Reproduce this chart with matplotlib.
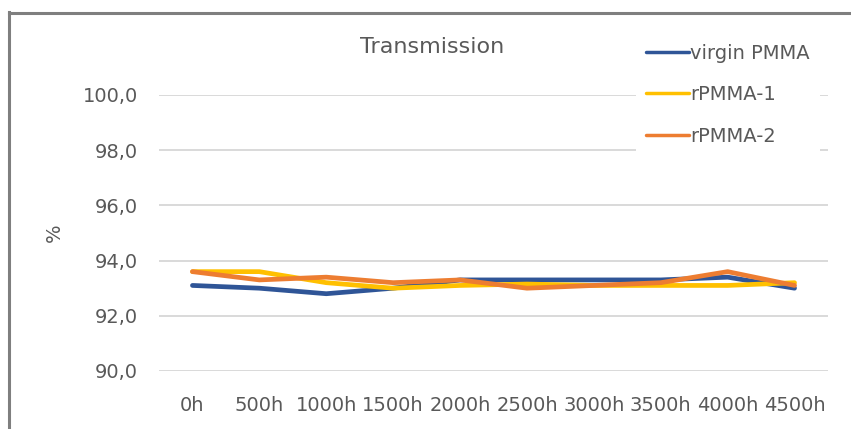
import matplotlib
matplotlib.use("Agg")
import matplotlib.pyplot as plt
from matplotlib.lines import Line2D

# Transmission (%) over ageing time
hours = ["0h", "500h", "1000h", "1500h", "2000h", "2500h", "3000h", "3500h", "4000h", "4500h"]
virgin_pmma = [93.1, 93.0, 92.8, 93.0, 93.3, 93.3, 93.3, 93.3, 93.4, 93.0]
rpmma_1 = [93.6, 93.6, 93.2, 93.0, 93.1, 93.15, 93.1, 93.1, 93.1, 93.2]
rpmma_2 = [93.6, 93.3, 93.4, 93.2, 93.3, 93.0, 93.1, 93.2, 93.6, 93.1]
y_ticks = [90.0, 92.0, 94.0, 96.0, 98.0, 100.0]

text_color = "#595959"
font_size = 14
plt.rcParams["font.family"] = ["DejaVu Sans"]

W, H = 851, 429
fig = plt.figure(figsize=(W / 100, H / 100), dpi=100)
ax = fig.add_axes([159 / W, 1 - 371 / H, (828 - 159) / W, (371 - 95) / H])

x = list(range(len(hours)))
series = [
    ("virgin PMMA", virgin_pmma, "#2F5597"),
    ("rPMMA-1", rpmma_1, "#FFC000"),
    ("rPMMA-2", rpmma_2, "#ED7D31"),
]
for label, vals, col in series:
    ax.plot(x, vals, color=col, lw=3.4, label=label, solid_capstyle="round",
            solid_joinstyle="round", zorder=3)

ax.set_xlim(-0.5, len(hours) - 0.5)
ax.set_ylim(90, 100)
ax.set_yticks(y_ticks)
ax.set_yticklabels([f"{v:.1f}".replace(".", ",") for v in y_ticks])
ax.set_xticks(x)
ax.set_xticklabels(hours)
ax.yaxis.grid(True, color="#D9D9D9", lw=1.4)
ax.set_axisbelow(True)
for s in ax.spines.values():
    s.set_visible(False)
ax.tick_params(length=0, labelsize=font_size, colors=text_color)
ax.tick_params(axis="y", pad=15)
ax.tick_params(axis="x", pad=18)
ax.set_ylabel("%", fontsize=font_size, color=text_color, labelpad=14)

fig.text(432 / W, 1 - 47 / H, "Transmission", ha="center", va="center",
         fontsize=16, color=text_color)

leg = ax.legend(loc="upper left", bbox_to_anchor=(636 / W, 1 - 34 / H),
                bbox_transform=fig.transFigure, fontsize=font_size,
                frameon=True, fancybox=False, edgecolor="none", facecolor="white",
                framealpha=1, handlelength=2.25, handletextpad=0.05,
                labelspacing=1.16, borderpad=0.5, borderaxespad=0)
for t in leg.get_texts():
    t.set_color(text_color)
for h in leg.get_lines():
    h.set_linewidth(2.5)

# Outer chart frame (left and top edges)
fig.add_artist(Line2D([9 / W, 9 / W], [0, 1 - 12 / H], transform=fig.transFigure,
                      color="#7F7F7F", lw=2.2))
fig.add_artist(Line2D([9 / W, 1], [1 - 13 / H, 1 - 13 / H], transform=fig.transFigure,
                      color="#7F7F7F", lw=2.2))

fig.savefig("out.png", dpi=100, facecolor="white")
